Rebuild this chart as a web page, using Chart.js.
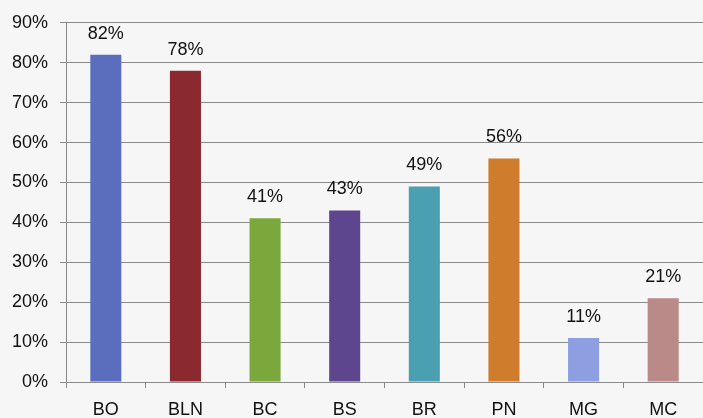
<!DOCTYPE html>
<html><head><meta charset="utf-8">
<script src="https://cdn.jsdelivr.net/npm/chart.js@4/dist/chart.umd.min.js"></script>
<style>html,body{margin:0;padding:0;background:#f6f6f6}#w{width:703px;height:418px}</style>
</head><body><div id="w"><canvas id="c"></canvas></div>
<script>
const categories = ["BO","BLN","BC","BS","BR","PN","MG","MC"];
const values = [82,78,41,43,49,56,11,21];
const barColors = ["#5b6ebd","#8a2a2f","#7aa83c","#5d468e","#4a9fb0","#cf7c2c","#8d9fe0","#b98a88"];
const yTicksMax = 90;

const labelPlugin = {
  id:'lbl',
  afterDatasetsDraw(chart){
    const ctx = chart.ctx;
    const meta = chart.getDatasetMeta(0);
    ctx.save();
    ctx.font = '18px "Liberation Sans", Arial, sans-serif';
    ctx.fillStyle = '#111';
    ctx.textAlign = 'center';
    ctx.textBaseline = 'middle';
    meta.data.forEach((b,i)=>{ ctx.fillText(values[i]+'%', b.x, b.y-21); });
    ctx.restore();
  }
};
const bg = {id:'bg',beforeDraw(c){const x=c.ctx;x.save();x.fillStyle='#f6f6f6';x.fillRect(0,0,c.width,c.height);x.restore();}};

new Chart(document.getElementById('c'),{
  type:'bar',
  data:{labels:categories,datasets:[{data:values,backgroundColor:barColors,barPercentage:0.39,categoryPercentage:1}]},
  plugins:[bg,labelPlugin],
  options:{
    responsive:true,maintainAspectRatio:false,animation:false,
    layout:{padding:{top:18,right:0,left:0,bottom:0}},
    plugins:{legend:{display:false},tooltip:{enabled:false}},
    scales:{
      x:{
        grid:{offset:true,drawOnChartArea:false,drawTicks:true,tickLength:6,color:'#8a8a8a'},
        border:{color:'#8a8a8a'},
        ticks:{color:'#111',padding:11,font:{family:'"Liberation Sans", Arial, sans-serif',size:18}},
        afterFit(s){s.height=36;}
      },
      y:{
        min:0,max:yTicksMax,
        grid:{color:'#8a8a8a',tickLength:6,drawTicks:true},
        border:{color:'#8a8a8a'},
        ticks:{stepSize:10,color:'#111',padding:12,callback:v=>v+'%',font:{family:'"Liberation Sans", Arial, sans-serif',size:18}},
        afterFit(s){s.width=66;}
      }
    }
  }
});
</script></body></html>
